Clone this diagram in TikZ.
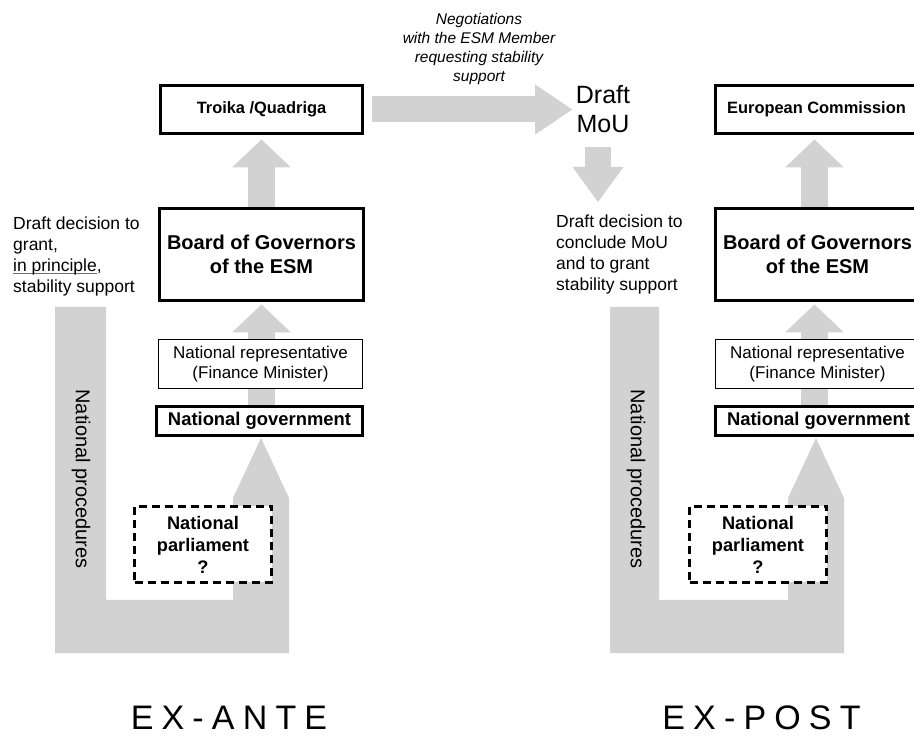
\documentclass[tikz,border=0pt]{standalone}
\usepackage{fontspec}
\setmainfont{Liberation Sans}
\newfontfamily\handfont[LetterSpace=24]{Liberation Sans}
\usetikzlibrary{arrows.meta,calc}
\definecolor{ag}{RGB}{210,210,210}
\definecolor{ulc}{RGB}{110,110,110}
\newcommand\fs[2]{\fontsize{#1}{#2}\selectfont}
\newcommand\myul[1]{\setbox0\hbox{#1}\rlap{\textcolor{ulc}{\rule[-2.5pt]{\wd0}{0.9pt}}}#1}
\pgfdeclarelayer{bgl}
\pgfsetlayers{bgl,main}
\begin{document}
\begin{tikzpicture}[x=1pt,y=1pt,
 thickbox/.style={draw=black,line width=3pt,fill=white,inner sep=0pt,align=center},
 thinbox/.style={draw=black,line width=1.2pt,fill=white,inner sep=0pt,align=center},
 dashbox/.style={draw=black,line width=3pt,dash pattern=on 8pt off 5pt,fill=white,inner sep=0pt,align=center},
 vfat/.style={draw=ag,line width=27pt,-{Triangle[width=59pt,length=28pt,line width=0pt]}},
 hfat/.style={draw=ag,line width=26pt,-{Triangle[width=50pt,length=37pt,line width=0pt]}},
 dfat/.style={draw=ag,line width=26pt,-{Triangle[width=51pt,length=35pt,line width=0pt]}},
 lbl/.style={inner sep=0pt,align=left,anchor=north west},
 proc/.style={inner sep=0pt,rotate=-90,font=\fs{20}{24}},
 title/.style={inner sep=0pt,font=\handfont\fs{34}{40}}
]
\useasboundingbox (0,0) rectangle (914,740);
\clip (0,0) rectangle (914,740);

% left column boxes
\node[thickbox,minimum width=202pt,minimum height=48pt,font=\bfseries\fs{16.4}{20}] (tq) at (261.5,630.5) {Troika /Quadriga};
\node[thickbox,minimum width=204pt,minimum height=92pt,font=\bfseries\fs{20}{24.5}] (bg1) at (261.5,485.5) {Board of Governors\\of the ESM};
\node[thinbox,minimum width=204pt,minimum height=49pt,font=\fs{17}{19.5}] (nr1) at (260.5,376) {National representative\\(Finance Minister)};
\node[thickbox,minimum width=206pt,minimum height=29pt,font=\bfseries\fs{18.4}{22}] (ng1) at (259.5,319) {National government};
\node[dashbox,minimum width=137pt,minimum height=76pt,font=\bfseries\fs{18.2}{22}] (np1) at (203,195.5) {National\\parliament\\?};

% right column boxes
\node[thickbox,minimum width=202pt,minimum height=48pt,font=\bfseries\fs{16.4}{20}] (ec) at (816.5,630.5) {European Commission};
\node[thickbox,minimum width=204pt,minimum height=92pt,font=\bfseries\fs{20}{24.5}] (bg2) at (817.5,485.5) {Board of Governors\\of the ESM};
\node[thinbox,minimum width=204pt,minimum height=49pt,font=\fs{17}{19.5}] (nr2) at (817.5,376) {National representative\\(Finance Minister)};
\node[thickbox,minimum width=206pt,minimum height=29pt,font=\bfseries\fs{18.4}{22}] (ng2) at (818.5,319) {National government};
\node[dashbox,minimum width=137pt,minimum height=76pt,font=\bfseries\fs{18.2}{22}] (np2) at (758,195.5) {National\\parliament\\?};

% free texts
\node[lbl,font=\fs{17.5}{21}] (dd1) at (13,523) {Draft decision to\\grant,\\\myul{in principle},\\stability support};
\node[lbl,font=\fs{17.5}{21}] (dd2) at (556,525) {Draft decision to\\conclude MoU\\and to grant\\stability support};
\node[inner sep=0pt,anchor=north,align=center,font=\itshape\fs{15.5}{19}] (neg) at (479,727) {Negotiations\\with the ESM Member\\requesting stability\\support};
\node[inner sep=0pt,anchor=north,align=center,font=\fs{25}{29}] (mou) at (603,655) {Draft\\MoU};
\node[proc] (p1) at (81,261) {National procedures};
\node[proc] (p2) at (636,261) {National procedures};
\node[title] (t1) at (229,22) {EX-ANTE};
\node[title] (t2) at (761.5,22) {EX-POST};

% grey arrows behind the boxes
\begin{pgfonlayer}{bgl}
\draw[vfat] (bg1.north) -- ([yshift=-4.5pt]tq.south);
\draw[vfat] (bg1.south |- ng1.north) -- ([yshift=-2.5pt]bg1.south);
\draw[vfat] ([xshift=-3pt]bg2.north) -- ([xshift=-2pt,yshift=-4.5pt]ec.south);
\draw[vfat] ([xshift=-3pt]bg2.south |- ng2.north) -- ([xshift=-3pt,yshift=-2.5pt]bg2.south);
\draw[hfat] ([xshift=7.5pt]tq.east) -- ($(mou.west |- tq.east)+(-3.5,0)$);
\draw[dfat] ($(mou.south)+(-5,-14)$) -- ($(dd2.north west)+(42,13)$);
\fill[ag] (55,433) coordinate (l1) -- (106,433) -- (106,140) -- (233,140) -- (233,242)
  -- (261,302) coordinate (l1tip) -- (289,242) -- (289,87) -- (55,87) -- cycle;
\fill[ag] (610,433) coordinate (l2) -- (659,433) -- (659,140) -- (788,140) -- (788,242)
  -- (816,302) coordinate (l2tip) -- (844,242) -- (844,87) -- (610,87) -- cycle;
\end{pgfonlayer}
\end{tikzpicture}
\end{document}
